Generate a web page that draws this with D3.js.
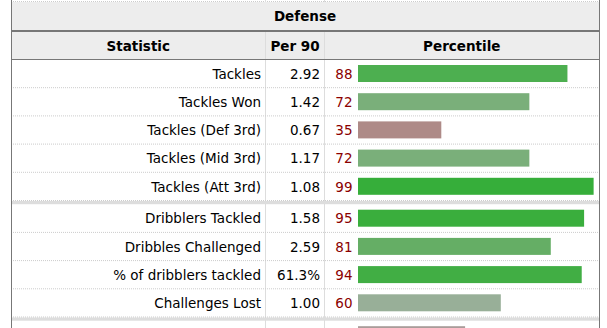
<!DOCTYPE html>
<html>
<head>
<meta charset="utf-8">
<script src="https://cdn.jsdelivr.net/npm/d3@7/dist/d3.min.js"></script>
<style>
  html, body { margin: 0; padding: 0; background: #fff; }
  svg { display: block; }
  text { font-family: "DejaVu Sans", Verdana, sans-serif; font-size: 13.5px; }
</style>
</head>
<body>
<svg id="chart" width="607" height="328"></svg>
<script>
// ---- data ----
const caption = "Defense";
const headers = ["Statistic", "Per 90", "Percentile"];
const stats = ["Tackles", "Tackles Won", "Tackles (Def 3rd)", "Tackles (Mid 3rd)", "Tackles (Att 3rd)",
               "Dribblers Tackled", "Dribbles Challenged", "% of dribblers tackled", "Challenges Lost",
               "Blocks"];
const per90 = ["2.92", "1.42", "0.67", "1.17", "1.08", "1.58", "2.59", "61.3%", "1.00", ""];
const percentiles = [88, 72, 35, 72, 99, 95, 81, 94, 60, 45];
const groups = [0, 0, 0, 0, 0, 1, 1, 1, 1, 2];
const barColors = ["#4daf50", "#7aaf7a", "#ae8a87", "#7aaf7a", "#36ae3a",
                   "#3aae3d", "#65ae65", "#41ae44", "#98af98", "#a99c9a"];

// ---- layout ----
const W = 607, H = 328;
const left = 11, right = 599;
const col1 = 265.5, col2 = 324.5;
const rowH = 28.2, sepH = 3.7;
const bodyTop = 59;

const svg = d3.select("#chart");
svg.append("rect").attr("width", W).attr("height", H).attr("fill", "#fff");

// row position scale (slot units -> px)
const yRow = d3.scaleLinear().domain([0, 1]).range([bodyTop, bodyTop + rowH]);
const slot = i => i + groups[i] * (sepH / rowH);
const xBar = d3.scaleLinear().domain([0, 100]).range([358, 596]);

const rows = stats.map((s, i) => ({
  stat: s, val: per90[i], pct: percentiles[i], color: barColors[i],
  top: yRow(slot(i)), first: i === 0 || groups[i] !== groups[i - 1]
}));

// remnant of table above
svg.append("line").attr("x1", left).attr("x2", right).attr("y1", 1.5).attr("y2", 1.5)
  .attr("stroke", "#ccc").attr("stroke-dasharray", "1,1");

// caption
svg.append("rect").attr("x", left).attr("y", 2).attr("width", right - left).attr("height", 28)
  .attr("fill", "#ededed");
svg.append("text").attr("x", (left + right) / 2).attr("y", 21).attr("text-anchor", "middle")
  .attr("font-weight", "bold").attr("fill", "#000").text(caption);
svg.append("rect").attr("x", left).attr("y", 30).attr("width", right - left).attr("height", 2)
  .attr("fill", "#777");

// header
svg.append("rect").attr("x", left).attr("y", 32).attr("width", right - left).attr("height", 27)
  .attr("fill", "#ededed");
const colCenters = [(left + col1) / 2, (col1 + col2) / 2, (col2 + right) / 2];
svg.selectAll("text.hdr").data(headers).join("text").attr("class", "hdr")
  .attr("x", (d, i) => colCenters[i]).attr("y", 50.5).attr("text-anchor", "middle")
  .attr("font-weight", "bold").attr("fill", "#000").text(d => d);

// column lines
[col1, col2].forEach(x => {
  svg.append("line").attr("x1", x).attr("x2", x).attr("y1", 32).attr("y2", H)
    .attr("stroke", "#ddd");
  svg.append("line").attr("x1", x).attr("x2", x).attr("y1", 0).attr("y2", 2)
    .attr("stroke", "#ddd");
});

svg.append("line").attr("x1", left).attr("x2", right).attr("y1", 59.5).attr("y2", 59.5)
  .attr("stroke", "#777");

// row separators
const rg = svg.selectAll("g.row").data(rows).join("g").attr("class", "row");
rg.each(function(d, i) {
  const g = d3.select(this);
  if (i === 0) return;
  if (d.first) {
    const b = d.top - sepH;
    g.append("rect").attr("x", left).attr("y", b + 1).attr("width", right - left).attr("height", sepH - 0.5)
      .attr("fill", "#ddd");
    g.append("line").attr("x1", left).attr("x2", right).attr("y1", b + 0.5).attr("y2", b + 0.5)
      .attr("stroke", "#ccc").attr("stroke-dasharray", "1,1");
  } else {
    g.append("line").attr("x1", left).attr("x2", right).attr("y1", d.top + 0.5).attr("y2", d.top + 0.5)
      .attr("stroke", "#ccc").attr("stroke-dasharray", "1,1");
  }
});

// bars
rg.append("rect")
  .attr("x", xBar(0)).attr("y", d => d.top + 6)
  .attr("width", d => xBar(d.pct) - xBar(0)).attr("height", 17)
  .attr("fill", d => d.color);

// texts (only rows whose text lies within the visible window)
const tg = rg.filter(d => d.top + 20 <= H);
tg.append("text").attr("x", 261).attr("y", d => d.top + 19.7).attr("text-anchor", "end")
  .attr("fill", "#000").text(d => d.stat);
tg.append("text").attr("x", 320).attr("y", d => d.top + 19.7).attr("text-anchor", "end")
  .attr("fill", "#000").text(d => d.val);
tg.append("text").attr("x", 352.5).attr("y", d => d.top + 19.7).attr("text-anchor", "end")
  .attr("fill", "#8b0000").text(d => d.pct);

// outer borders
svg.append("line").attr("x1", left + 0.5).attr("x2", left + 0.5).attr("y1", 0).attr("y2", H)
  .attr("stroke", "#777");
svg.append("line").attr("x1", right + 0.5).attr("x2", right + 0.5).attr("y1", 0).attr("y2", H)
  .attr("stroke", "#777");
</script>
</body>
</html>
